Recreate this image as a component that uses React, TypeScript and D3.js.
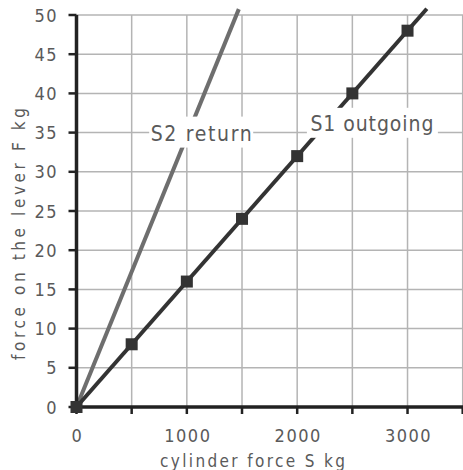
import React from "react";
import * as d3 from "d3";

const xTicks = [0, 500, 1000, 1500, 2000, 2500, 3000, 3500];
const xTickLabels = ["0", "", "1000", "", "2000", "", "3000", ""];
const yTicks = [0, 5, 10, 15, 20, 25, 30, 35, 40, 45, 50];
const s1Cylinder = [0, 500, 1000, 1500, 2000, 2500, 3000];
const s1Lever = [0, 8, 16, 24, 32, 40, 48];
const s1LineX = [0, 3175];
const s1LineY = [0, 50.8];
const s2LineX = [0, 1471];
const s2LineY = [0, 50.75];
const seriesNames = ["S1 outgoing", "S2 return"];
const xTitle = "cylinder force S kg";
const yTitle = "force on the lever F kg";

const W = 463;
const H = 470;
const FONT = "'DejaVu Sans Condensed', 'DejaVu Sans', sans-serif";

export default function App() {
  const x = d3.scaleLinear().domain([0, 3500]).range([76.5, 462.7]);
  const y = d3.scaleLinear().domain([0, 50]).range([407, 15]);
  const line = d3
    .line<[number, number]>()
    .x((d) => x(d[0]))
    .y((d) => y(d[1]));
  const s1Pts: [number, number][] = s1LineX.map((v, i) => [v, s1LineY[i]]);
  const s2Pts: [number, number][] = s2LineX.map((v, i) => [v, s2LineY[i]]);
  const grid = "#b4b4b4";
  const textCol = "#5a5a5a";
  const ms = 12;

  return (
    <svg
      width={W}
      height={H}
      style={{ position: "absolute", left: 0, top: 0, background: "#fff" }}
    >
      {/* grid */}
      {xTicks.slice(1).map((t) => (
        <line key={"gx" + t} x1={x(t)} x2={x(t)} y1={y(50)} y2={y(0)} stroke={grid} strokeWidth={1.5} />
      ))}
      {yTicks.slice(1).map((t) => (
        <line key={"gy" + t} x1={x(0)} x2={W} y1={y(t)} y2={y(t)} stroke={grid} strokeWidth={1.5} />
      ))}
      {/* lines */}
      <path d={line(s2Pts) || ""} stroke="#6e6e6e" strokeWidth={4} fill="none" />
      <path d={line(s1Pts) || ""} stroke="#333" strokeWidth={4} fill="none" />
      {/* label boxes */}
      <rect x={x(1130) - 52} y={y(35) - 16} width={104} height={31} fill="#fff" />
      <rect x={x(2677) - 65} y={y(36.25) - 15} width={131} height={30} fill="#fff" />
      <text x={x(1130)} y={y(35) + 8.5} textAnchor="middle" fontFamily={FONT} fontSize={21} fill={textCol} textLength={101} lengthAdjust="spacing">
        {seriesNames[1]}
      </text>
      <text x={x(2677)} y={y(36.25) + 8} textAnchor="middle" fontFamily={FONT} fontSize={21} fill={textCol} textLength={123} lengthAdjust="spacing">
        {seriesNames[0]}
      </text>
      {/* axes */}
      <line x1={x(0)} x2={x(0)} y1={y(50)} y2={y(0) + 1.5} stroke="#222" strokeWidth={3.5} />
      <line x1={x(0)} x2={W} y1={y(0)} y2={y(0)} stroke="#222" strokeWidth={3.5} />
      {yTicks.map((t) => (
        <g key={"yt" + t}>
          <line x1={x(0) - 8} x2={x(0)} y1={y(t)} y2={y(t)} stroke="#222" strokeWidth={2.5} />
          <text x={58} y={y(t) + 6.5} textAnchor="end" fontFamily={FONT} fontSize={18} fill={textCol} letterSpacing={1.5}>
            {t}
          </text>
        </g>
      ))}
      {xTicks.map((t, i) => (
        <g key={"xt" + t}>
          <line x1={x(t)} x2={x(t)} y1={y(0)} y2={y(0) + 7} stroke="#222" strokeWidth={2.5} />
          {xTickLabels[i] && (
            <text x={x(t) + 1} y={441.5} textAnchor="middle" fontFamily={FONT} fontSize={18} fill={textCol} letterSpacing={1.5}>
              {xTickLabels[i]}
            </text>
          )}
        </g>
      ))}
      {/* markers */}
      {s1Cylinder.map((v, i) => (
        <rect key={"m" + i} x={x(v) - ms / 2} y={y(s1Lever[i]) - ms / 2} width={ms} height={ms} fill="#333" />
      ))}
      {/* titles */}
      <text x={252.5} y={467} textAnchor="middle" fontFamily={FONT} fontSize={17} fill={textCol} textLength={185} lengthAdjust="spacing">
        {xTitle}
      </text>
      <text transform={`translate(25,234) rotate(-90)`} textAnchor="middle" fontFamily={FONT} fontSize={17} fill={textCol} textLength={252} lengthAdjust="spacing">
        {yTitle}
      </text>
    </svg>
  );
}
